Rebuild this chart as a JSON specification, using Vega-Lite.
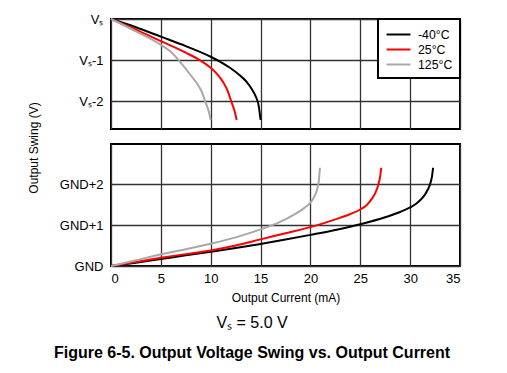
{
  "$schema": "https://vega.github.io/schema/vega-lite/v6.json",
  "background": "white",
  "padding": {"left": 25, "top": 12, "right": 30, "bottom": 8},
  "bounds": "flush",
  "config": {
    "font": "Liberation Sans",
    "view": {"stroke": "black", "strokeWidth": 2},
    "axis": {
      "gridColor": "#333333", "gridOpacity": 1, "gridWidth": 1.3,
      "domain": false, "ticks": false,
      "labelFont": "Liberation Sans", "labelFontSize": 13, "labelColor": "black",
      "titleFont": "Liberation Sans", "titleFontSize": 12, "titleFontWeight": "normal", "titleColor": "black"
    },
    "concat": {"spacing": 15}
  },
  "title": {
    "text": "Vₛ = 5.0 V",
    "subtitle": "Figure 6-5. Output Voltage Swing vs. Output Current",
    "orient": "bottom",
    "anchor": "middle",
    "dx": 8,
    "font": "Liberation Sans",
    "fontSize": 16,
    "fontWeight": "normal",
    "color": "black",
    "subtitleFont": "Liberation Sans",
    "subtitleFontSize": 16,
    "subtitleFontWeight": "bold",
    "subtitleColor": "black",
    "subtitlePadding": 14,
    "offset": 11
  },
  "datasets": {
    "top": [
      {"temp": "-40°C", "current": 0, "swing": 0},
      {"temp": "-40°C", "current": 2.5, "swing": -0.2},
      {"temp": "-40°C", "current": 5, "swing": -0.43},
      {"temp": "-40°C", "current": 7.5, "swing": -0.66},
      {"temp": "-40°C", "current": 10, "swing": -0.92},
      {"temp": "-40°C", "current": 11, "swing": -1.05},
      {"temp": "-40°C", "current": 12, "swing": -1.2},
      {"temp": "-40°C", "current": 13, "swing": -1.39},
      {"temp": "-40°C", "current": 13.6, "swing": -1.53},
      {"temp": "-40°C", "current": 14.1, "swing": -1.7},
      {"temp": "-40°C", "current": 14.5, "swing": -1.88},
      {"temp": "-40°C", "current": 14.8, "swing": -2.1},
      {"temp": "-40°C", "current": 15.0, "swing": -2.46},
      {"temp": "25°C", "current": 0, "swing": 0},
      {"temp": "25°C", "current": 2.5, "swing": -0.26},
      {"temp": "25°C", "current": 5, "swing": -0.54},
      {"temp": "25°C", "current": 7.5, "swing": -0.82},
      {"temp": "25°C", "current": 8.9, "swing": -1.0},
      {"temp": "25°C", "current": 10, "swing": -1.19},
      {"temp": "25°C", "current": 10.6, "swing": -1.33},
      {"temp": "25°C", "current": 11.2, "swing": -1.52},
      {"temp": "25°C", "current": 11.7, "swing": -1.75},
      {"temp": "25°C", "current": 12.05, "swing": -2.0},
      {"temp": "25°C", "current": 12.4, "swing": -2.25},
      {"temp": "25°C", "current": 12.6, "swing": -2.46},
      {"temp": "125°C", "current": 0, "swing": 0},
      {"temp": "125°C", "current": 2.5, "swing": -0.3},
      {"temp": "125°C", "current": 5, "swing": -0.63},
      {"temp": "125°C", "current": 6, "swing": -0.8},
      {"temp": "125°C", "current": 6.77, "swing": -1.0},
      {"temp": "125°C", "current": 8, "swing": -1.37},
      {"temp": "125°C", "current": 8.93, "swing": -1.69},
      {"temp": "125°C", "current": 9.2, "swing": -1.83},
      {"temp": "125°C", "current": 9.43, "swing": -2.0},
      {"temp": "125°C", "current": 9.8, "swing": -2.25},
      {"temp": "125°C", "current": 10.0, "swing": -2.46}
    ],
    "bottom": [
      {"temp": "-40°C", "current": 0, "swing": 0},
      {"temp": "-40°C", "current": 2.5, "swing": 0.08},
      {"temp": "-40°C", "current": 5, "swing": 0.17},
      {"temp": "-40°C", "current": 7.5, "swing": 0.26},
      {"temp": "-40°C", "current": 10, "swing": 0.35},
      {"temp": "-40°C", "current": 12.5, "swing": 0.44},
      {"temp": "-40°C", "current": 15, "swing": 0.54},
      {"temp": "-40°C", "current": 17.5, "swing": 0.645},
      {"temp": "-40°C", "current": 20, "swing": 0.76},
      {"temp": "-40°C", "current": 22.5, "swing": 0.88},
      {"temp": "-40°C", "current": 25, "swing": 1.02},
      {"temp": "-40°C", "current": 27.5, "swing": 1.19},
      {"temp": "-40°C", "current": 29, "swing": 1.32},
      {"temp": "-40°C", "current": 30, "swing": 1.43},
      {"temp": "-40°C", "current": 30.6, "swing": 1.52},
      {"temp": "-40°C", "current": 31.1, "swing": 1.63},
      {"temp": "-40°C", "current": 31.5, "swing": 1.75},
      {"temp": "-40°C", "current": 31.8, "swing": 1.88},
      {"temp": "-40°C", "current": 32.0, "swing": 2.0},
      {"temp": "-40°C", "current": 32.2, "swing": 2.2},
      {"temp": "-40°C", "current": 32.3, "swing": 2.4},
      {"temp": "25°C", "current": 0, "swing": 0},
      {"temp": "25°C", "current": 2.5, "swing": 0.1},
      {"temp": "25°C", "current": 5, "swing": 0.2},
      {"temp": "25°C", "current": 7.5, "swing": 0.29},
      {"temp": "25°C", "current": 10, "swing": 0.38},
      {"temp": "25°C", "current": 12.5, "swing": 0.5},
      {"temp": "25°C", "current": 15, "swing": 0.65},
      {"temp": "25°C", "current": 17.5, "swing": 0.8},
      {"temp": "25°C", "current": 20, "swing": 0.95},
      {"temp": "25°C", "current": 22.5, "swing": 1.14},
      {"temp": "25°C", "current": 24, "swing": 1.27},
      {"temp": "25°C", "current": 25, "swing": 1.38},
      {"temp": "25°C", "current": 25.6, "swing": 1.48},
      {"temp": "25°C", "current": 26.1, "swing": 1.62},
      {"temp": "25°C", "current": 26.5, "swing": 1.78},
      {"temp": "25°C", "current": 26.8, "swing": 1.98},
      {"temp": "25°C", "current": 27.0, "swing": 2.2},
      {"temp": "25°C", "current": 27.1, "swing": 2.4},
      {"temp": "125°C", "current": 0, "swing": 0},
      {"temp": "125°C", "current": 2.5, "swing": 0.14},
      {"temp": "125°C", "current": 5, "swing": 0.285},
      {"temp": "125°C", "current": 7.5, "swing": 0.41},
      {"temp": "125°C", "current": 10, "swing": 0.545},
      {"temp": "125°C", "current": 12.5, "swing": 0.7},
      {"temp": "125°C", "current": 15, "swing": 0.895},
      {"temp": "125°C", "current": 16.8, "swing": 1.06},
      {"temp": "125°C", "current": 18.4, "swing": 1.26},
      {"temp": "125°C", "current": 19.4, "swing": 1.42},
      {"temp": "125°C", "current": 20, "swing": 1.55},
      {"temp": "125°C", "current": 20.4, "swing": 1.7},
      {"temp": "125°C", "current": 20.7, "swing": 1.9},
      {"temp": "125°C", "current": 20.85, "swing": 2.1},
      {"temp": "125°C", "current": 20.95, "swing": 2.4}
    ]
  },
  "vconcat": [
    {
      "width": 349,
      "height": 110,
      "data": {"name": "top"},
      "mark": {"type": "line", "strokeWidth": 2, "interpolate": "monotone"},
      "encoding": {
        "x": {
          "field": "current", "type": "quantitative",
          "scale": {"domain": [0, 35], "nice": false},
          "axis": {"values": [0, 5, 10, 15, 20, 25, 30, 35], "labels": false, "title": null}
        },
        "y": {
          "field": "swing", "type": "quantitative",
          "scale": {"domain": [-2.68, 0], "nice": false, "zero": false},
          "axis": {"values": [-2, -1, 0], "labelExpr": "'Vₛ' + (datum.value == 0 ? '' : datum.value)", "title": null, "labelPadding": 8}
        },
        "color": {
          "field": "temp", "type": "nominal",
          "scale": {"domain": ["-40°C", "25°C", "125°C"], "range": ["#000000", "#ff0000", "#a8a8a8"]},
          "legend": {
            "title": null, "orient": "top-right", "offset": 0, "padding": 7,
            "fillColor": "white", "strokeColor": "black",
            "symbolType": "M-1.65,0H1.65", "symbolSize": 210, "symbolStrokeWidth": 2,
            "symbolOffset": 5,
            "labelFont": "Liberation Sans", "labelFontSize": 12.3, "labelColor": "black",
            "labelOffset": 11, "rowPadding": 0,
            "encode": {"legend": {"update": {"strokeWidth": {"value": 2}}}}
          }
        }
      }
    },
    {
      "width": 349,
      "height": 122,
      "data": {"name": "bottom"},
      "mark": {"type": "line", "strokeWidth": 2, "interpolate": "monotone"},
      "encoding": {
        "x": {
          "field": "current", "type": "quantitative",
          "scale": {"domain": [0, 35], "nice": false},
          "axis": {"values": [0, 5, 10, 15, 20, 25, 30, 35], "title": "Output Current (mA)", "labelPadding": 6, "titlePadding": 7}
        },
        "y": {
          "field": "swing", "type": "quantitative",
          "scale": {"domain": [0, 2.98], "nice": false},
          "axis": {
            "values": [0, 1, 2], "labelExpr": "'GND' + (datum.value == 0 ? '' : '+' + datum.value)",
            "labelPadding": 8,
            "title": "Output Swing (V)", "titleAngle": -90, "titleX": -78, "titleY": 3.5,
            "titleAlign": "center", "titleBaseline": "middle"
          }
        },
        "color": {
          "field": "temp", "type": "nominal",
          "scale": {"domain": ["-40°C", "25°C", "125°C"], "range": ["#000000", "#ff0000", "#a8a8a8"]},
          "legend": null
        }
      }
    }
  ],
  "resolve": {"legend": {"color": "independent"}}
}
